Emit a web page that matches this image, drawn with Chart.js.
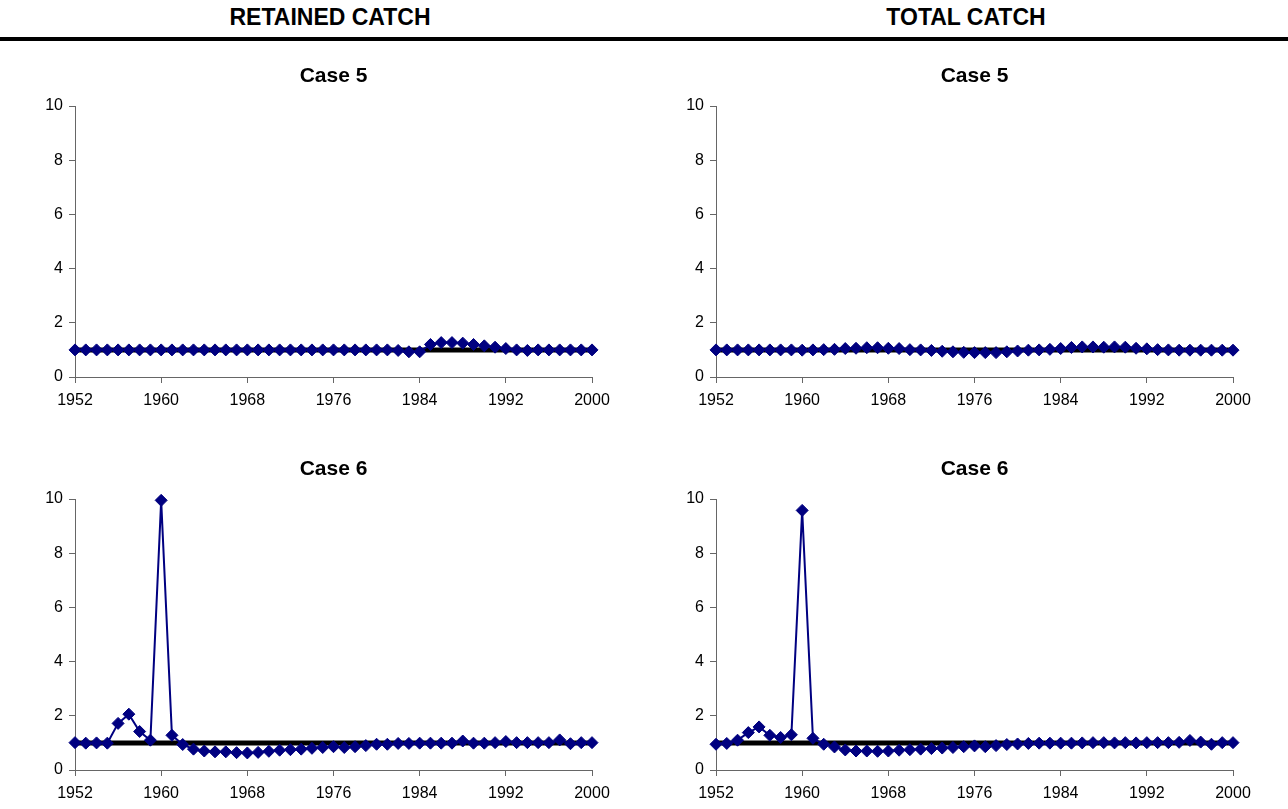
<!DOCTYPE html>
<html>
<head>
<meta charset="utf-8">
<script src="https://cdn.jsdelivr.net/npm/chart.js@4.4.0/dist/chart.umd.min.js"></script>
<style>
  body { margin: 0; background: #fff; width: 1288px; height: 809px; position: relative; overflow: hidden;
         font-family: "Liberation Sans", Arial, sans-serif; }
  .head { position: absolute; top: 6px; font-weight: bold; font-size: 23px; line-height: 23px;
          transform: translateX(-50%); white-space: nowrap; color: #000; }
  .rule { position: absolute; left: 0; top: 37px; width: 1288px; height: 4px; background: #000; }
  canvas { position: absolute; }
</style>
</head>
<body>
<div class="head" style="left:330px">RETAINED CATCH</div>
<div class="head" style="left:966px">TOTAL CATCH</div>
<div class="rule"></div>

<canvas id="retained5" width="640" height="370" style="left:0;top:50px"></canvas>
<canvas id="total5" width="640" height="370" style="left:640px;top:50px"></canvas>
<canvas id="retained6" width="640" height="370" style="left:0;top:443px"></canvas>
<canvas id="total6" width="640" height="370" style="left:640px;top:443px"></canvas>

<script>
const years = [
  1952, 1953, 1954, 1955, 1956, 1957, 1958, 1959, 1960, 1961, 1962, 1963, 1964,
  1965, 1966, 1967, 1968, 1969, 1970, 1971, 1972, 1973, 1974, 1975, 1976, 1977,
  1978, 1979, 1980, 1981, 1982, 1983, 1984, 1985, 1986, 1987, 1988, 1989, 1990,
  1991, 1992, 1993, 1994, 1995, 1996, 1997, 1998, 1999, 2000
];

const retainedCase5 = [
  1.00, 1.00, 1.00, 1.00, 1.00, 1.00, 1.00, 1.00, 1.00, 1.00, 1.00, 1.00, 1.00,
  1.00, 1.00, 1.00, 1.00, 1.00, 1.00, 1.00, 1.00, 1.00, 1.00, 1.00, 1.00, 1.00,
  1.00, 1.00, 1.00, 1.00, 0.98, 0.93, 0.93, 1.20, 1.27, 1.27, 1.25, 1.20, 1.15,
  1.10, 1.05, 1.00, 0.98, 1.00, 1.00, 1.00, 1.00, 1.00, 1.00
];

const totalCase5 = [
  1.00, 1.00, 1.00, 1.00, 1.00, 1.00, 1.00, 1.00, 0.99, 1.00, 1.01, 1.02, 1.05,
  1.06, 1.08, 1.08, 1.06, 1.05, 1.01, 1.00, 0.98, 0.95, 0.93, 0.91, 0.90, 0.90,
  0.90, 0.93, 0.96, 0.99, 1.00, 1.02, 1.05, 1.09, 1.11, 1.11, 1.10, 1.11, 1.10,
  1.06, 1.04, 1.01, 1.00, 0.99, 0.99, 0.99, 0.99, 0.99, 0.99
];

const retainedCase6 = [
  1.01, 0.99, 1.00, 0.99, 1.72, 2.06, 1.42, 1.10, 9.95, 1.28, 0.94, 0.77, 0.70,
  0.67, 0.67, 0.64, 0.63, 0.65, 0.69, 0.73, 0.75, 0.77, 0.80, 0.83, 0.86, 0.83,
  0.86, 0.90, 0.95, 0.95, 0.98, 0.98, 0.99, 0.99, 0.99, 0.99, 1.07, 0.99, 0.99,
  1.01, 1.05, 1.01, 1.01, 1.01, 1.01, 1.11, 0.97, 1.01, 1.01
];

const totalCase6 = [
  0.95, 0.98, 1.10, 1.38, 1.59, 1.28, 1.20, 1.30, 9.58, 1.17, 0.95, 0.85, 0.74,
  0.70, 0.70, 0.69, 0.70, 0.73, 0.75, 0.77, 0.79, 0.81, 0.83, 0.86, 0.89, 0.86,
  0.90, 0.94, 0.96, 0.98, 0.99, 0.99, 0.99, 0.99, 1.00, 1.01, 1.01, 1.00, 1.01,
  1.00, 1.01, 1.01, 1.01, 1.02, 1.09, 1.03, 0.95, 1.01, 1.01
];

// flat reference level drawn across the full period
const refYears = [1952, 2000];
const refLevel = [1, 1];

const yTicks = [0, 2, 4, 6, 8, 10];
const xTicks = [1952, 1960, 1968, 1976, 1984, 1992, 2000];

const NAVY = '#000080';
const AXIS = '#666666';

Chart.defaults.font.family = "'Liberation Sans', Arial, sans-serif";
Chart.defaults.color = '#000';

function toPoints(xs, ys) {
    return xs.map((x, i) => ({ x: x, y: ys[i] }));
}

function makePanel(canvasId, title, values, axisWidth, padRight) {
    const ctx = document.getElementById(canvasId).getContext('2d');
    return new Chart(ctx, {
        type: 'line',
        data: {
            datasets: [
                {
                    data: toPoints(years, values),
                    borderColor: NAVY,
                    borderWidth: 2,
                    backgroundColor: NAVY,
                    pointStyle: 'rectRot',
                    pointRadius: 6,
                    pointBorderWidth: 1,
                    pointBorderColor: NAVY,
                    pointBackgroundColor: NAVY,
                    tension: 0,
                    clip: false,
                    order: 0
                },
                {
                    data: toPoints(refYears, refLevel),
                    borderColor: '#000',
                    borderWidth: 5,
                    pointRadius: 0,
                    clip: false,
                    order: 1
                }
            ]
        },
        options: {
            responsive: false,
            animation: false,
            layout: { padding: { top: 14, left: 0, right: padRight, bottom: 8 } },
            plugins: {
                legend: { display: false },
                tooltip: { enabled: false },
                title: {
                    display: true,
                    text: title,
                    fullSize: false,
                    color: '#000',
                    font: { size: 21, weight: 'bold' },
                    padding: { top: 0, bottom: 16.8 }
                }
            },
            scales: {
                x: {
                    type: 'linear',
                    min: xTicks[0],
                    max: xTicks[xTicks.length - 1],
                    afterBuildTicks: scale => { scale.ticks = xTicks.map(v => ({ value: v })); },
                    afterFit: scale => { scale.height = 35; },
                    ticks: {
                        font: { size: 16 },
                        color: '#000',
                        padding: 8,
                        maxRotation: 0,
                        callback: v => String(v)
                    },
                    grid: { drawOnChartArea: false, drawTicks: true, tickLength: 6, color: AXIS },
                    border: { display: true, color: AXIS, width: 1 }
                },
                y: {
                    min: yTicks[0],
                    max: yTicks[yTicks.length - 1],
                    afterBuildTicks: scale => { scale.ticks = yTicks.map(v => ({ value: v })); },
                    afterFit: scale => { scale.width = axisWidth; },
                    ticks: {
                        font: { size: 16 },
                        color: '#000',
                        padding: 6
                    },
                    grid: { drawOnChartArea: false, drawTicks: true, tickLength: 6, color: AXIS },
                    border: { display: true, color: AXIS, width: 1 }
                }
            }
        }
    });
}

makePanel('retained5', 'Case 5', retainedCase5, 75, 48);
makePanel('total5', 'Case 5', totalCase5, 76, 47);
makePanel('retained6', 'Case 6', retainedCase6, 75, 48);
makePanel('total6', 'Case 6', totalCase6, 76, 47);
</script>
</body>
</html>
